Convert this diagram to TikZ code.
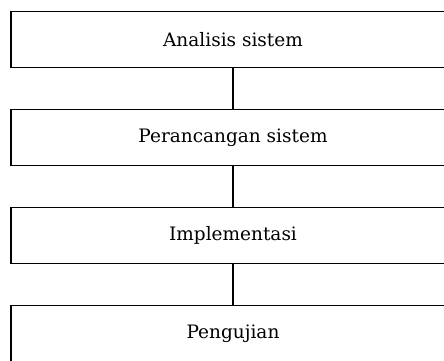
\documentclass[tikz,border=0pt]{standalone}
\usepackage{fontspec}
\setmainfont{DejaVu Serif}
\usetikzlibrary{positioning}
\tikzset{tahap/.style={draw, line width=1.1pt, minimum width=444pt, minimum height=56pt, inner sep=0pt, font=\fontsize{18.5}{22}\selectfont}}
\begin{document}
\begin{tikzpicture}
  \clip (0,0) rectangle (444pt,-360pt);
  \node[tahap] (analisis) at (233pt,-39.5pt) {Analisis sistem};
  \node[tahap, below=41pt of analisis] (perancangan) {Perancangan sistem};
  \node[tahap, below=41pt of perancangan] (implementasi) {Implementasi};
  \node[tahap, below=41pt of implementasi] (pengujian) {Pengujian};
  \draw[line width=1.1pt] (analisis) -- (perancangan);
  \draw[line width=1.1pt] (perancangan) -- (implementasi);
  \draw[line width=1.1pt] (implementasi) -- (pengujian);
\end{tikzpicture}
\end{document}
